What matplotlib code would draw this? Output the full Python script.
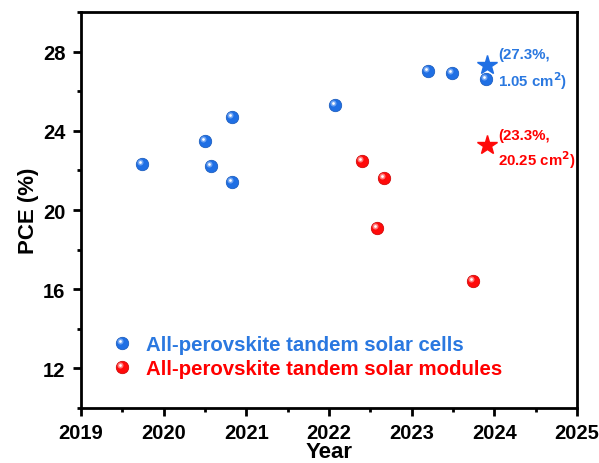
import numpy as np
import matplotlib
matplotlib.use("Agg")
import matplotlib.pyplot as plt
from matplotlib.path import Path
from matplotlib.lines import Line2D
from matplotlib.legend_handler import HandlerTuple
from matplotlib.ticker import MultipleLocator

plt.rcParams['font.family'] = ['Liberation Sans', 'DejaVu Sans']
plt.rcParams['font.weight'] = 'bold'

# Data
cells_year = [2019.74, 2020.50, 2020.57, 2020.83, 2020.83, 2022.07, 2023.20, 2023.49, 2023.90]
cells_pce = [22.3, 23.5, 22.2, 24.7, 21.4, 25.3, 27.0, 26.9, 26.6]
modules_year = [2022.40, 2022.67, 2022.58, 2023.74]
modules_pce = [22.5, 21.6, 19.1, 16.4]
star_cell = (2023.91, 27.3)
star_module = (2023.91, 23.3)
cell_label = "All-perovskite tandem solar cells"
module_label = "All-perovskite tandem solar modules"
cell_note = "(27.3%,\n1.05 cm$^{\\mathbf{2}}$)"
module_note = "(23.3%,\n20.25 cm$^{\\mathbf{2}}$)"
xticks = [2019, 2020, 2021, 2022, 2023, 2024, 2025]
yticks = [12, 16, 20, 24, 28]

blue = '#1f6fe4'
blue_dark = '#1456b8'
blue_mid = '#6fa4f2'
blue_text = '#2a78e0'
red = '#ff0a0a'
red_dark = '#c80000'
red_mid = '#ff7a7a'
red_text = '#ff0000'

circ = Path.unit_circle()

def hl_marker(r, cx=-0.16, cy=0.16):
    # small circle offset toward the upper-left; normalised by the max abs vertex
    path = Path(circ.vertices * r + np.array([cx, cy]), circ.codes)
    scale = (abs(cx) + r) / 0.5
    return path, scale

hl1, s1 = hl_marker(0.24)
hl2, s2 = hl_marker(0.11)

fig = plt.figure(figsize=(5.99, 4.64), dpi=100)
ax = fig.add_axes([0.135, 0.1185, 0.828, 0.8535])

MS = 9.0  # marker diameter in points

def sphere_lines(c, cd, cm):
    return [dict(marker='o', ms=MS, mfc=c, mec=cd, mew=0.5),
            dict(marker=hl1, ms=MS * s1, mfc=cm, mec='none'),
            dict(marker=hl2, ms=MS * s2, mfc='white', mec='none')]

def sphere(x, y, c, cd, cm):
    for i, kw in enumerate(sphere_lines(c, cd, cm)):
        ax.plot(x, y, ls='none', zorder=3 + i, **kw)

sphere(cells_year, cells_pce, blue, blue_dark, blue_mid)
sphere(modules_year, modules_pce, red, red_dark, red_mid)

ax.plot([star_cell[0]], [star_cell[1]], marker='*', ms=15, color=blue, mec=blue, ls='none', zorder=6)
ax.plot([star_module[0]], [star_module[1]], marker='*', ms=15, color=red, mec=red, ls='none', zorder=6)

ax.annotate(cell_note, xy=star_cell, xytext=(8, -2.5), textcoords='offset points',
            color=blue_text, fontsize=10.8, fontweight='bold', va='center', ha='left', linespacing=1.45)
ax.annotate(module_note, xy=star_module, xytext=(8, -3), textcoords='offset points',
            color=red_text, fontsize=10.8, fontweight='bold', va='center', ha='left', linespacing=1.35)

ax.set_xlim(2019, 2025)
ax.set_ylim(10, 30)
ax.set_xticks(xticks)
ax.set_yticks(yticks)
ax.xaxis.set_minor_locator(MultipleLocator(0.5))
ax.yaxis.set_minor_locator(MultipleLocator(2))
ax.tick_params(which='major', direction='out', length=6, width=2, labelsize=14.5, pad=5)
ax.tick_params(which='minor', direction='out', length=3, width=2)
for lab in ax.get_xticklabels() + ax.get_yticklabels():
    lab.set_fontweight('bold')
for s in ax.spines.values():
    s.set_linewidth(2)

ax.set_xlabel('Year', fontsize=16, fontweight='bold', labelpad=-1)
ax.set_ylabel('PCE (%)', fontsize=16, fontweight='bold', labelpad=3)

h1 = tuple(Line2D([], [], ls='none', **kw) for kw in sphere_lines(blue, blue_dark, blue_mid))
h2 = tuple(Line2D([], [], ls='none', **kw) for kw in sphere_lines(red, red_dark, red_mid))
leg = ax.legend([h1, h2], [cell_label, module_label],
                handler_map={tuple: HandlerTuple(ndivide=1)},
                loc='upper left', bbox_to_anchor=(100 / 599, 1 - 326 / 464),
                bbox_transform=fig.transFigure, frameon=False,
                prop={'weight': 'bold', 'size': 14.7}, labelcolor=[blue_text, red_text],
                handlelength=1.2, handletextpad=0.55, labelspacing=0.25, borderpad=0)

fig.savefig('out.png', dpi=100)
